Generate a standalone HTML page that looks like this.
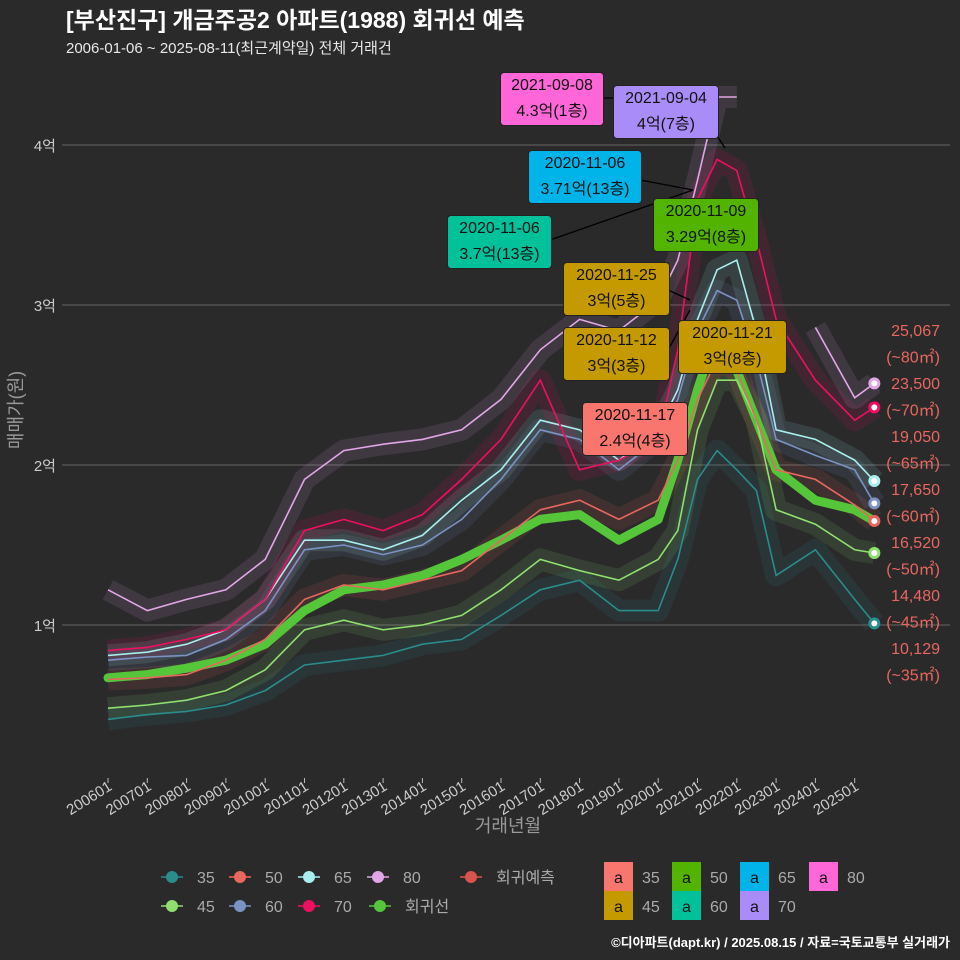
<!DOCTYPE html>
<html><head><meta charset="utf-8">
<style>
html,body{margin:0;padding:0;background:#2a2a2b;}
#wrap{position:relative;width:960px;height:960px;overflow:hidden;background:#2a2a2b;font-family:"Liberation Sans","Noto Sans CJK KR",sans-serif;}
.box{position:absolute;border-radius:4px;color:#111;font-size:16px;text-align:center;line-height:26px;border:1px solid #222;}
</style></head>
<body>
<div id="wrap">
<svg id="svg" width="960" height="960" xmlns="http://www.w3.org/2000/svg" style="position:absolute;left:0;top:0">
  <text x="66" y="28" fill="#fff" font-size="23" font-weight="bold" font-family="Liberation Sans, Noto Sans CJK KR, sans-serif">[부산진구] 개금주공2 아파트(1988) 회귀선 예측</text>
  <text x="66" y="53" fill="#e8e8e8" font-size="15" font-family="Liberation Sans, Noto Sans CJK KR, sans-serif">2006-01-06 ~ 2025-08-11(최근계약일) 전체 거래건</text>
  <g id="grid"></g>
  <g id="yticks"></g>
  <g id="xticks"></g>
  <g id="series"></g>
  <g id="annlines"></g>
  <text x="22" y="410" fill="#999" font-size="18" transform="rotate(-90 22 410)" text-anchor="middle" font-family="Liberation Sans, Noto Sans CJK KR, sans-serif">매매가(원)</text>
  <text x="508" y="832" fill="#999" font-size="18" text-anchor="middle" font-family="Liberation Sans, Noto Sans CJK KR, sans-serif">거래년월</text>
  <g id="rlabels"></g>
  <g id="legend"></g>
  <text x="950" y="947" fill="#fff" font-size="13" font-weight="bold" text-anchor="end" font-family="Liberation Sans, Noto Sans CJK KR, sans-serif">©디아파트(dapt.kr) / 2025.08.15 / 자료=국토교통부 실거래가</text>
</svg>

<div class="box" style="left:500px;top:72px;width:102px;background:#ff66d8">2021-09-08<br>4.3억(1층)</div>
<div class="box" style="left:613px;top:85px;width:104px;background:#a98cf8">2021-09-04<br>4억(7층)</div>
<div class="box" style="left:528px;top:150px;width:112px;background:#00b4ea">2020-11-06<br>3.71억(13층)</div>
<div class="box" style="left:447px;top:215px;width:103px;background:#00c19a">2020-11-06<br>3.7억(13층)</div>
<div class="box" style="left:653px;top:198px;width:104px;background:#53b400">2020-11-09<br>3.29억(8층)</div>
<div class="box" style="left:563px;top:262px;width:105px;background:#c49a00">2020-11-25<br>3억(5층)</div>
<div class="box" style="left:563px;top:327px;width:105px;background:#c49a00">2020-11-12<br>3억(3층)</div>
<div class="box" style="left:678px;top:320px;width:107px;background:#c49a00">2020-11-21<br>3억(8층)</div>
<div class="box" style="left:582px;top:402px;width:104px;background:#f8766d">2020-11-17<br>2.4억(4층)</div>
</div>

<script>
const years = [2006,2007,2008,2009,2010,2011,2012,2013,2014,2015,2016,2017,2018,2019,2020,2020.5,2021,2021.5,2022,2022.5,2023,2024,2025,2025.5];
const s35 = [.41,.44,.46,.50,.59,.75,.78,.81,.88,.91,1.06,1.22,1.28,1.09,1.09,1.41,1.91,2.09,1.97,1.84,1.31,1.47,1.16,1.01];
const s45 = [.48,.50,.53,.59,.72,.97,1.03,.97,1.0,1.06,1.22,1.41,1.34,1.28,1.41,1.59,2.22,2.53,2.53,2.28,1.72,1.63,1.47,1.45];
const s50 = [.66,.67,.69,.78,.91,1.16,1.25,1.22,1.28,1.34,1.53,1.72,1.78,1.66,1.78,2.03,2.41,2.66,2.59,2.28,1.97,1.91,1.75,1.65];
const s60 = [.78,.80,.81,.91,1.09,1.47,1.50,1.44,1.50,1.66,1.91,2.22,2.16,1.97,2.16,2.41,2.84,3.09,3.03,2.66,2.16,2.06,1.97,1.76];
const s65 = [.81,.83,.88,.97,1.16,1.53,1.53,1.47,1.56,1.78,1.97,2.28,2.22,2.03,2.22,2.47,2.91,3.22,3.28,2.84,2.22,2.16,2.03,1.90];
const s70 = [.84,.86,.91,.97,1.16,1.59,1.66,1.59,1.69,1.91,2.16,2.53,1.97,2.03,2.16,2.72,3.66,3.91,3.84,3.41,2.91,2.53,2.28,2.36];
const s80 = [1.22,1.09,1.16,1.22,1.41,1.91,2.09,2.13,2.16,2.22,2.41,2.72,2.91,2.84,3.03,3.28,3.78,4.3,4.3,null,null,2.86,2.42,2.51];
const sReg = [.67,.69,.73,.78,.88,1.09,1.22,1.25,1.31,1.41,1.53,1.66,1.69,1.53,1.66,2.03,2.47,2.84,2.59,2.28,1.97,1.78,1.72,1.65];
const yTicks = [1,2,3,4];
const xTickYears = [2006,2007,2008,2009,2010,2011,2012,2013,2014,2015,2016,2017,2018,2019,2020,2021,2022,2023,2024,2025];
const endLabels = ["25,067","(~80㎡)","23,500","(~70㎡)","19,050","(~65㎡)","17,650","(~60㎡)","16,520","(~50㎡)","14,480","(~45㎡)","10,129","(~35㎡)"];

const NS="http://www.w3.org/2000/svg";
const X = yr => 108 + (yr-2006)*39.3;
const Y = v => 785 - v*160;
function mk(tag, attrs, parent){const e=document.createElementNS(NS,tag);for(const k in attrs)e.setAttribute(k,attrs[k]);parent.appendChild(e);return e;}
const FF="Liberation Sans, Noto Sans CJK KR, sans-serif";

const grid=document.getElementById('grid'), yt=document.getElementById('yticks');
yTicks.forEach(t=>{
  const l=mk('line',{x1:62,x2:950,y1:Y(t),y2:Y(t),stroke:'#5a5a5a','stroke-width':1.2},grid);
  
  
  const tx=mk('text',{x:56,y:Y(t)+6,fill:'#ccc','font-size':15,'text-anchor':'end','font-family':FF},yt);
  tx.textContent=t+'억';
  
  
});
const xt=document.getElementById('xticks');
xTickYears.forEach(yr=>{
  const x=X(yr);
  mk('line',{x1:x,x2:x,y1:778,y2:783,stroke:'#bbb'},xt);
  const tx=mk('text',{x:x+5,y:789,fill:'#ccc','font-size':15,'text-anchor':'end','font-family':FF,transform:`rotate(-32 ${x+5} 789)`},xt);
  tx.textContent=yr+'01';
  
  
});

const ser=document.getElementById('series');
const defs=[['35',s35,'#2a8c8c'],['45',s45,'#90e070'],['50',s50,'#e8675e'],['60',s60,'#7a93c4'],['65',s65,'#a8eeee'],['70',s70,'#ee1060'],['80',s80,'#e2a6e6']];
function pathFor(arr){let d='',pen=false;arr.forEach((v,i)=>{if(v==null){pen=false;return;}d+=(pen?'L':'M')+X(years[i]).toFixed(1)+' '+Y(v).toFixed(1)+' ';pen=true;});return d;}
defs.forEach(([n,arr,c])=>{
  const p=mk('path',{d:pathFor(arr),fill:'none',stroke:c,'stroke-width':22,'stroke-opacity':0.12,'stroke-linejoin':'round'},ser);
  
  
});
const reg=mk('path',{d:pathFor(sReg),fill:'none',stroke:'#55c63a','stroke-width':9,'stroke-linejoin':'round','stroke-linecap':'round'},ser);


defs.forEach(([n,arr,c])=>{
  const p=mk('path',{d:pathFor(arr),fill:'none',stroke:c,'stroke-width':1.6},ser);
  
  
  const last=arr[arr.length-1];
  const cc=mk('circle',{cx:X(years[years.length-1]),cy:Y(last),r:6,fill:c},ser);
  
  
  const ci=mk('circle',{cx:X(years[years.length-1]),cy:Y(last),r:3,fill:'#fff'},ser);
  
  
});

const al=document.getElementById('annlines');
[[602,98,705,98],[700,110,725,148],[640,180,693,190],[550,240,693,190],[668,290,690,300],[668,350,690,310]].forEach(s=>{
  mk('line',{x1:s[0],y1:s[1],x2:s[2],y2:s[3],stroke:'#000','stroke-width':1.3},al);
});

const rl=document.getElementById('rlabels');
endLabels.forEach((t,i)=>{
  const tx=mk('text',{x:940,y:336+i*26.5,fill:'#e8675e','font-size':16,'text-anchor':'end','font-family':FF},rl);
  tx.textContent=t;
  
  
});

const lg=document.getElementById('legend');
const litems=[['35','#2a8c8c',172,877],['50','#e8675e',240,877],['65','#a8eeee',309,877],['80','#e2a6e6',378,877],['회귀예측','#d9544d',471,877],
 ['45','#90e070',172,906],['60','#7a93c4',240,906],['70','#ee1060',309,906],['회귀선','#55c63a',380,906]];
litems.forEach(([t,c,x,y])=>{
  mk('line',{x1:x-11,x2:x+11,y1:y,y2:y,stroke:c,'stroke-width':1.5},lg);
  const ci=mk('circle',{cx:x,cy:y,r:6,fill:c},lg);
  
  
  const tx=mk('text',{x:x+25,y:y+6,fill:'#aaa','font-size':16,'font-family':FF},lg);
  tx.textContent=t;
  
  
});
const boxes=[['35','#f8766d',604,862],['50','#53b400',672,862],['65','#00b4ea',740,862],['80','#ff66d8',809,862],['45','#c49a00',604,891],['60','#00c19a',672,891],['70','#a98cf8',740,891]];
boxes.forEach(([t,c,x,y])=>{
  const r=mk('rect',{x:x,y:y,width:29,height:29,fill:c},lg);
  
  
  const a=mk('text',{x:x+14.5,y:y+21,fill:'#111','font-size':16,'text-anchor':'middle','font-family':FF},lg);
  a.textContent='a';
  const tx=mk('text',{x:x+38,y:y+21,fill:'#aaa','font-size':16,'font-family':FF},lg);
  tx.textContent=t;
  
  
});
</script>
</body></html>
